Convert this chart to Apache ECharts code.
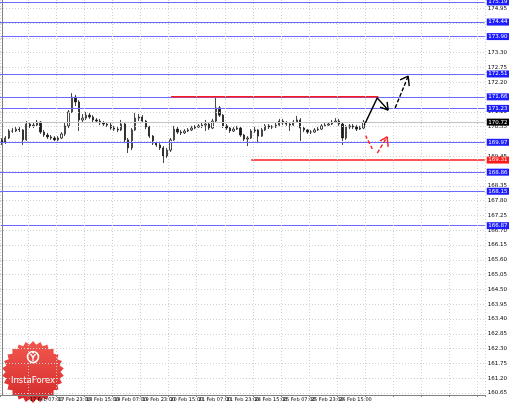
<!DOCTYPE html>
<html><head><meta charset="utf-8">
<script src="https://cdn.jsdelivr.net/npm/echarts@6/dist/echarts.min.js"></script>
<style>html,body{margin:0;padding:0;background:#fff}#c{width:510px;height:404px}</style>
</head><body><div id="c"></div>
<script>
// ---- data ----
const timeLabels = ['14 Feb 15:00','17 Feb 07:00','17 Feb 23:00','18 Feb 15:00','19 Feb 07:00','19 Feb 23:00','20 Feb 15:00','21 Feb 07:00','21 Feb 23:00','24 Feb 15:00','25 Feb 07:00','25 Feb 23:00','26 Feb 15:00'];
const barsPerLabel = 8;      // 2-hour bars, label every 16 hours
const totalSlots = 138;      // includes empty space on the right
// [open, close, low, high]
const candles = [
[170.06,169.98,169.87,170.13],[169.98,170.13,169.91,170.20],[170.13,170.39,170.09,170.46],[170.39,170.39,170.32,170.50],
[170.39,170.46,170.35,170.54],[170.46,170.43,170.35,170.54],[170.43,170.06,169.87,170.46],[170.06,170.65,170.02,170.76],
[170.65,170.58,170.50,170.72],[170.58,170.61,170.50,170.69],[170.61,170.72,170.54,170.80],[170.72,170.35,170.28,170.76],
[170.35,170.24,170.17,170.43],[170.24,170.17,170.09,170.32],[170.17,170.13,170.06,170.24],[170.13,170.06,170.02,170.20],
[170.06,170.13,169.98,170.20],[170.13,170.28,170.09,170.35],[170.28,170.58,170.20,170.69],[170.58,171.10,170.50,171.17],
[171.10,171.65,171.06,171.80],[171.65,171.47,171.32,171.73],[171.47,170.80,170.39,171.54],[170.80,170.87,170.69,171.02],
[170.87,170.98,170.80,171.10],[170.98,170.91,170.84,171.06],[170.91,170.80,170.72,170.98],[170.80,170.76,170.69,170.87],
[170.76,170.69,170.61,170.84],[170.69,170.65,170.58,170.76],[170.65,170.61,170.54,170.72],[170.61,170.50,170.43,170.69],
[170.50,170.46,170.39,170.58],[170.46,170.43,170.35,170.54],[170.43,170.65,170.39,170.80],[170.65,170.06,169.94,170.69],
[170.06,169.76,169.57,170.13],[169.76,170.43,169.68,170.50],[170.43,170.87,170.39,171.06],[170.87,170.91,170.76,171.02],
[170.91,170.76,170.69,170.98],[170.76,170.54,170.46,170.80],[170.54,170.20,170.13,170.58],[170.20,169.94,169.87,170.24],
[169.94,169.87,169.80,170.02],[169.87,169.76,169.68,169.94],[169.76,169.46,169.20,169.83],[169.46,169.68,169.39,169.76],
[169.68,170.06,169.61,170.13],[170.06,170.46,170.02,170.58],[170.46,170.35,170.28,170.54],[170.35,170.32,170.24,170.43],
[170.32,170.39,170.28,170.46],[170.39,170.43,170.35,170.50],[170.43,170.50,170.39,170.58],[170.50,170.54,170.46,170.61],
[170.54,170.58,170.50,170.65],[170.58,170.61,170.50,170.69],[170.61,170.65,170.39,170.80],[170.65,170.50,170.43,170.72],
[170.50,170.76,170.46,170.84],[170.76,171.25,170.72,171.65],[171.25,170.98,170.91,171.32],[170.98,170.58,170.50,171.02],
[170.58,170.50,170.43,170.65],[170.50,170.39,170.32,170.54],[170.39,170.46,170.35,170.54],[170.46,170.50,170.43,170.58],
[170.50,170.24,170.17,170.54],[170.24,170.09,170.02,170.28],[170.09,170.13,169.83,170.20],[170.13,170.39,170.09,170.46],
[170.39,170.43,170.32,170.54],[170.43,170.20,169.94,170.46],[170.20,170.43,170.17,170.50],[170.43,170.58,170.39,170.65],
[170.58,170.54,170.46,170.65],[170.54,170.54,170.46,170.61],[170.54,170.61,170.50,170.69],[170.61,170.76,170.58,170.84],
[170.76,170.69,170.61,170.84],[170.69,170.65,170.58,170.76],[170.65,170.61,170.39,170.72],[170.61,170.72,170.58,170.80],
[170.72,170.80,170.69,170.95],[170.80,170.50,170.02,170.87],[170.50,170.43,170.35,170.58],[170.43,170.35,170.28,170.46],
[170.35,170.35,170.28,170.43],[170.35,170.43,170.32,170.50],[170.43,170.46,170.39,170.54],[170.46,170.58,170.43,170.65],
[170.58,170.61,170.54,170.69],[170.61,170.65,170.58,170.72],[170.65,170.72,170.61,170.80],[170.72,170.76,170.69,170.87],
[170.76,170.65,170.58,170.84],[170.65,170.13,169.87,170.69],[170.13,170.54,170.06,170.61],[170.54,170.58,170.46,170.65],
[170.58,170.54,170.46,170.65],[170.54,170.46,170.39,170.61],[170.46,170.50,170.43,170.58],[170.50,170.72,170.46,170.80]
];
const yTicks = [160.65,161.20,161.75,162.30,162.85,163.40,163.95,164.50,165.05,165.60,166.15,166.70,167.25,167.80,168.35,168.90,169.45,170.00,170.55,171.10,171.65,172.20,172.75,173.30,173.85,174.40,174.95];
const blueLevels = [175.19,174.44,173.90,172.51,171.66,171.23,169.97,168.86,168.15,166.87];
const redSegmentUpper = [[48.2,171.66],[107.2,171.66]];
const redSegmentLower = [[71.0,169.31],[137.5,169.31]];
const blackArrow1 = [[103.2,170.61],[106.9,171.62],[110.0,171.17]];
const blackArrow1Head = [[107.7,171.28],[110.0,171.17],[109.7,171.47]];
const blackArrow2 = [[112.0,171.25],[115.7,172.43]];
const blackArrow2Head = [[113.4,172.29],[115.7,172.43],[116.0,172.06]];
const redArrow1 = [[103.5,170.24],[105.5,169.72]];
const redArrow2 = [[106.9,169.57],[109.7,170.17]];
const redArrow2Head = [[107.7,170.02],[109.7,170.17],[110.0,169.80]];

// ---- chart ----
const lastPrice = candles[candles.length-1][1];
const categories = Array.from({length: totalSlots}, (_, i) => String(i));
const FONT = 'DejaVu Sans';
const chart = echarts.init(document.getElementById('c'), null, {renderer:'canvas'});

function seg(data, color, dashed, width, extra) {
  return Object.assign({
    type:'line', xAxisIndex:1, yAxisIndex:0, data, symbol:'none', silent:true, animation:false,
    lineStyle:{color, width: width||1.3, type: dashed ? [4,2] : 'solid'}, z:5
  }, extra||{});
}

// logo starburst (decoration)
const star = [];
const spikes = 26;
for (let k = 0; k < spikes*2; k++) {
  const r = k % 2 === 0 ? 31 : 27.5;
  const a = Math.PI * k / spikes;
  star.push([r*Math.sin(a), -r*Math.cos(a)]);
}

const option = {
  backgroundColor:'#fff',
  animation:false,
  grid:{left:0, right:23, top:0, bottom:9, containLabel:false},
  xAxis:[{
    type:'category', data:categories, boundaryGap:true, z:20,
    axisLine:{show:true, lineStyle:{color:'#808080', width:1}},
    axisTick:{show:true, interval:barsPerLabel-1, length:2, lineStyle:{color:'#808080'}},
    axisLabel:{show:true, interval:barsPerLabel-1, align:'left', margin:2, fontSize:5, color:'#000', fontFamily:FONT,
      formatter:(v, i) => (i % barsPerLabel === 0 && i/barsPerLabel < timeLabels.length) ? timeLabels[i/barsPerLabel] : ''},
    splitLine:{show:true, interval:barsPerLabel-1, lineStyle:{color:'#d0d0d0', type:[1,2], width:1}}
  },{
    type:'value', min:-0.5, max:totalSlots-0.5, show:false
  }],
  yAxis:[{
    type:'value', position:'right', min:160.576, max:175.26, scale:true,
    axisLine:{show:true, lineStyle:{color:'#808080', width:1}},
    axisTick:{show:true, length:2, customValues:yTicks, lineStyle:{color:'#808080'}},
    axisLabel:{show:true, customValues:yTicks, margin:3, fontSize:5.5, color:'#000', fontFamily:FONT, formatter:v => v.toFixed(2)},
    splitLine:{show:false}
  }],
  series:[
    {type:'line', data:[], silent:true, z:1,
      markLine:{symbol:'none', silent:true, animation:false, label:{show:false},
        lineStyle:{color:'#d0d0d0', type:[1,2], width:1},
        data: yTicks.map(v => ({yAxis:v}))}},
    {type:'line', data:[], silent:true, z:1,
      markLine:{symbol:'none', silent:true, animation:false,
        lineStyle:{color:'#c4c4c4', type:'solid', width:1},
        label:{show:true, position:'end', distance:2, formatter:p => p.value.toFixed(2),
          backgroundColor:'#000', color:'#fff', fontSize:5.5, fontFamily:FONT, padding:[1,1.5,0,1.5]},
        data:[{yAxis:lastPrice}]}},
    {type:'candlestick', data:candles, barWidth:1.8, z:3,
      itemStyle:{color:'#ffffff', color0:'#1a1a1a', borderColor:'#1a1a1a', borderColor0:'#1a1a1a', borderWidth:0.8}},
    {type:'line', data:[], silent:true, z:4,
      markLine:{symbol:'none', silent:true, animation:false,
        lineStyle:{color:'#6a6aff', type:'solid', width:1},
        label:{show:true, position:'end', distance:2, formatter:p => p.value.toFixed(2),
          backgroundColor:'#1c1cff', color:'#fff', fontSize:5.5, fontFamily:FONT, padding:[1,1.5,0,1.5]},
        data: blueLevels.map(v => ({yAxis:v}))}},
    seg(redSegmentUpper, '#ff1a1a', false, 1.5),
    seg(redSegmentLower, '#ff1a1a', false, 1.5, {
      endLabel:{show:true, distance:2, formatter:p => p.value[1].toFixed(2),
        backgroundColor:'#ff1a1a', color:'#fff', fontSize:5.5, fontFamily:FONT, padding:[1,1.5,0,1.5]}}),
    seg(blackArrow1, '#000', false, 1.4),
    seg(blackArrow1Head, '#000', false, 1.4),
    seg(blackArrow2, '#000', true, 1.4),
    seg(blackArrow2Head, '#000', false, 1.4),
    seg(redArrow1, '#ff2020', true, 1.4),
    seg(redArrow2, '#ff2020', true, 1.4),
    seg(redArrow2Head, '#ff2020', false, 1.4)
  ],
  graphic:[{
    type:'group', x:33, y:372, z:-10, silent:true,
    children:[
      {type:'polygon', shape:{points:star}, style:{fill:new echarts.graphic.LinearGradient(0,0,0,1,[{offset:0,color:'#f2574f'},{offset:1,color:'#d42a2a'}])}},
      {type:'circle', shape:{cx:0, cy:-15, r:5.5}, style:{fill:'none', stroke:'#fff', lineWidth:1.6}},
      {type:'polyline', shape:{points:[[-2.5,-18],[0,-14.5],[2.5,-18]]}, style:{stroke:'#fff', lineWidth:1.3, fill:'none'}},
      {type:'line', shape:{x1:0, y1:-14.5, x2:0, y2:-11}, style:{stroke:'#fff', lineWidth:1.3}},
      {type:'circle', shape:{cx:0, cy:-19.5, r:1.1}, style:{fill:'#fff'}},
      {type:'text', style:{text:'InstaForex', x:0, y:9, align:'center', verticalAlign:'middle', fill:'#fff', font:'8.5px "DejaVu Sans"'}}
    ]
  }]
};
chart.setOption(option);
</script>
</body></html>
